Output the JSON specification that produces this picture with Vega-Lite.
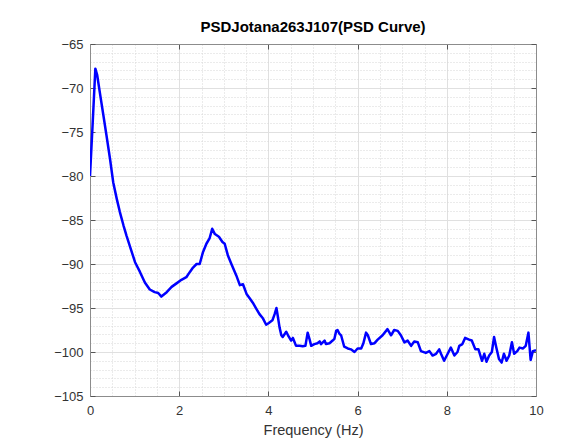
{
  "$schema": "https://vega.github.io/schema/vega-lite/v6.json",
  "width": 446,
  "height": 352,
  "autosize": "none",
  "padding": {"left": 90, "top": 44, "right": 52, "bottom": 43},
  "background": "white",
  "config": {"view": {"stroke": null}},
  "title": {"text": "PSDJotana263J107(PSD Curve)", "font": "Liberation Sans", "fontSize": 15, "fontWeight": "bold", "color": "#000000", "anchor": "middle", "frame": "group", "baseline": "alphabetic", "offset": -9},
  "data": {"values": [
    {"freq": 0.00, "psd": -80.0}, {"freq": 0.06, "psd": -74.0}, {"freq": 0.12, "psd": -67.8}, {"freq": 0.16, "psd": -68.5},
    {"freq": 0.22, "psd": -70.5}, {"freq": 0.30, "psd": -73.1}, {"freq": 0.37, "psd": -75.4}, {"freq": 0.45, "psd": -78.1},
    {"freq": 0.52, "psd": -80.7}, {"freq": 0.60, "psd": -82.6}, {"freq": 0.67, "psd": -84.1}, {"freq": 0.75, "psd": -85.6},
    {"freq": 0.82, "psd": -86.8}, {"freq": 0.89, "psd": -87.9}, {"freq": 1.01, "psd": -89.8}, {"freq": 1.12, "psd": -90.9},
    {"freq": 1.23, "psd": -92.1}, {"freq": 1.34, "psd": -92.9}, {"freq": 1.45, "psd": -93.2}, {"freq": 1.53, "psd": -93.3},
    {"freq": 1.60, "psd": -93.7}, {"freq": 1.72, "psd": -93.2}, {"freq": 1.83, "psd": -92.6}, {"freq": 1.94, "psd": -92.2},
    {"freq": 2.05, "psd": -91.8}, {"freq": 2.16, "psd": -91.5}, {"freq": 2.24, "psd": -90.9}, {"freq": 2.31, "psd": -90.4},
    {"freq": 2.39, "psd": -90.0}, {"freq": 2.46, "psd": -90.0}, {"freq": 2.53, "psd": -88.7}, {"freq": 2.61, "psd": -87.7},
    {"freq": 2.68, "psd": -87.1}, {"freq": 2.74, "psd": -86.0}, {"freq": 2.80, "psd": -86.6}, {"freq": 2.89, "psd": -86.9},
    {"freq": 2.97, "psd": -87.5}, {"freq": 3.02, "psd": -87.7}, {"freq": 3.09, "psd": -89.0}, {"freq": 3.17, "psd": -90.0},
    {"freq": 3.28, "psd": -91.3}, {"freq": 3.36, "psd": -92.4}, {"freq": 3.43, "psd": -92.3}, {"freq": 3.51, "psd": -93.4},
    {"freq": 3.58, "psd": -93.9}, {"freq": 3.65, "psd": -94.4}, {"freq": 3.73, "psd": -95.1}, {"freq": 3.80, "psd": -95.7},
    {"freq": 3.88, "psd": -96.2}, {"freq": 3.95, "psd": -96.9}, {"freq": 4.01, "psd": -96.7}, {"freq": 4.09, "psd": -96.4},
    {"freq": 4.14, "psd": -95.7}, {"freq": 4.18, "psd": -95.0}, {"freq": 4.21, "psd": -95.9}, {"freq": 4.25, "psd": -97.2},
    {"freq": 4.29, "psd": -98.1}, {"freq": 4.32, "psd": -98.3}, {"freq": 4.40, "psd": -97.7}, {"freq": 4.44, "psd": -98.1},
    {"freq": 4.51, "psd": -98.7}, {"freq": 4.55, "psd": -98.4}, {"freq": 4.62, "psd": -99.3}, {"freq": 4.70, "psd": -99.3},
    {"freq": 4.77, "psd": -99.35}, {"freq": 4.83, "psd": -99.3}, {"freq": 4.88, "psd": -97.8}, {"freq": 4.92, "psd": -98.5},
    {"freq": 4.96, "psd": -99.3}, {"freq": 5.03, "psd": -99.1}, {"freq": 5.10, "psd": -99.0}, {"freq": 5.15, "psd": -98.8},
    {"freq": 5.18, "psd": -99.1}, {"freq": 5.26, "psd": -98.7}, {"freq": 5.29, "psd": -99.1}, {"freq": 5.37, "psd": -99.0},
    {"freq": 5.44, "psd": -98.7}, {"freq": 5.48, "psd": -98.5}, {"freq": 5.52, "psd": -97.6}, {"freq": 5.55, "psd": -97.5},
    {"freq": 5.59, "psd": -97.9}, {"freq": 5.63, "psd": -98.1}, {"freq": 5.70, "psd": -99.4}, {"freq": 5.78, "psd": -99.6},
    {"freq": 5.85, "psd": -99.7}, {"freq": 5.93, "psd": -100.0}, {"freq": 6.00, "psd": -99.6}, {"freq": 6.08, "psd": -99.6},
    {"freq": 6.13, "psd": -99.0}, {"freq": 6.19, "psd": -97.8}, {"freq": 6.23, "psd": -98.1}, {"freq": 6.30, "psd": -99.1},
    {"freq": 6.38, "psd": -99.0}, {"freq": 6.45, "psd": -98.6}, {"freq": 6.56, "psd": -98.1}, {"freq": 6.67, "psd": -97.4},
    {"freq": 6.75, "psd": -98.1}, {"freq": 6.82, "psd": -97.5}, {"freq": 6.90, "psd": -97.6}, {"freq": 6.97, "psd": -98.1},
    {"freq": 7.05, "psd": -98.9}, {"freq": 7.12, "psd": -98.7}, {"freq": 7.20, "psd": -99.3}, {"freq": 7.27, "psd": -98.8},
    {"freq": 7.35, "psd": -98.9}, {"freq": 7.42, "psd": -99.9}, {"freq": 7.53, "psd": -100.1}, {"freq": 7.61, "psd": -99.9},
    {"freq": 7.68, "psd": -100.4}, {"freq": 7.76, "psd": -100.2}, {"freq": 7.83, "psd": -99.7}, {"freq": 7.87, "psd": -100.2},
    {"freq": 7.94, "psd": -101.0}, {"freq": 8.02, "psd": -100.2}, {"freq": 8.09, "psd": -99.5}, {"freq": 8.17, "psd": -100.4},
    {"freq": 8.24, "psd": -100.0}, {"freq": 8.28, "psd": -99.3}, {"freq": 8.35, "psd": -99.1}, {"freq": 8.41, "psd": -98.4},
    {"freq": 8.50, "psd": -98.6}, {"freq": 8.56, "psd": -98.7}, {"freq": 8.64, "psd": -99.7}, {"freq": 8.71, "psd": -99.7},
    {"freq": 8.79, "psd": -101.0}, {"freq": 8.84, "psd": -100.2}, {"freq": 8.89, "psd": -101.1}, {"freq": 8.95, "psd": -100.4},
    {"freq": 9.01, "psd": -100.0}, {"freq": 9.06, "psd": -98.3}, {"freq": 9.11, "psd": -99.5}, {"freq": 9.17, "psd": -100.8},
    {"freq": 9.23, "psd": -101.2}, {"freq": 9.28, "psd": -100.2}, {"freq": 9.34, "psd": -101.0}, {"freq": 9.40, "psd": -100.4},
    {"freq": 9.46, "psd": -98.9}, {"freq": 9.51, "psd": -100.2}, {"freq": 9.58, "psd": -99.9}, {"freq": 9.63, "psd": -99.5},
    {"freq": 9.71, "psd": -99.6}, {"freq": 9.77, "psd": -99.3}, {"freq": 9.83, "psd": -97.8}, {"freq": 9.88, "psd": -100.9},
    {"freq": 9.93, "psd": -99.9}, {"freq": 10.0, "psd": -99.8}
  ]},
  "layer": [
    {
      "mark": {"type": "line", "strokeOpacity": 0},
      "encoding": {
        "x": {"field": "freq", "type": "quantitative", "scale": {"domain": [0, 10], "nice": false, "zero": false},
          "axis": {"orient": "bottom", "values": [0.5, 1, 1.5, 2.5, 3, 3.5, 4.5, 5, 5.5, 6.5, 7, 7.5, 8.5, 9, 9.5], "grid": true, "gridColor": "#d6d6d6", "gridDash": [1, 2], "gridWidth": 1, "ticks": false, "labels": false, "domain": false, "title": null}},
        "y": {"field": "psd", "type": "quantitative", "scale": {"domain": [-105, -65], "nice": false, "zero": false},
          "axis": {"orient": "left", "values": [-104, -103, -102, -101, -99, -98, -97, -96, -94, -93, -92, -91, -89, -88, -87, -86, -84, -83, -82, -81, -79, -78, -77, -76, -74, -73, -72, -71, -69, -68, -67, -66], "grid": true, "gridColor": "#d6d6d6", "gridDash": [1, 2], "gridWidth": 1, "ticks": false, "labels": false, "domain": false, "title": null}}
      }
    },
    {
      "mark": {"type": "line", "strokeOpacity": 0},
      "encoding": {
        "x": {"field": "freq", "type": "quantitative",
          "axis": {"orient": "bottom", "values": [0, 2, 4, 6, 8, 10], "format": "d", "grid": true, "gridColor": "#e0e0e0", "gridWidth": 1,
            "tickSize": -5, "tickColor": "#555555", "tickWidth": 1, "domain": true, "domainColor": "#8c8c8c", "domainWidth": 1,
            "labelFont": "Liberation Sans", "labelFontSize": 13, "labelColor": "#333333", "labelPadding": 13, "labelFlush": false,
            "title": "Frequency (Hz)", "titleFont": "Liberation Sans", "titleFontSize": 14.5, "titleFontWeight": "normal", "titleColor": "#333333", "titlePadding": 6}},
        "y": {"field": "psd", "type": "quantitative",
          "axis": {"orient": "left", "values": [-105, -100, -95, -90, -85, -80, -75, -70, -65], "format": "d", "grid": true, "gridColor": "#e0e0e0", "gridWidth": 1,
            "tickSize": -5, "tickColor": "#555555", "tickWidth": 1, "domain": true, "domainColor": "#8c8c8c", "domainWidth": 1,
            "labelFont": "Liberation Sans", "labelFontSize": 13, "labelColor": "#333333", "labelPadding": 12, "labelFlush": false, "title": null}}
      }
    },
    {
      "mark": {"type": "line", "strokeOpacity": 0},
      "encoding": {
        "x": {"field": "freq", "type": "quantitative",
          "axis": {"orient": "top", "values": [0, 2, 4, 6, 8, 10], "grid": false, "tickSize": -5, "tickColor": "#555555", "tickWidth": 1,
            "domain": true, "domainColor": "#8c8c8c", "domainWidth": 1, "labels": false, "title": null}},
        "y": {"field": "psd", "type": "quantitative",
          "axis": {"orient": "right", "values": [-105, -100, -95, -90, -85, -80, -75, -70, -65], "grid": false, "tickSize": -5, "tickColor": "#555555", "tickWidth": 1,
            "domain": true, "domainColor": "#8c8c8c", "domainWidth": 1, "labels": false, "title": null}}
      }
    },
    {
      "mark": {"type": "line", "color": "#0000ff", "strokeWidth": 2.5, "strokeJoin": "round", "clip": true},
      "encoding": {
        "x": {"field": "freq", "type": "quantitative", "axis": null},
        "y": {"field": "psd", "type": "quantitative", "axis": null}
      }
    }
  ],
  "resolve": {"axis": {"x": "independent", "y": "independent"}}
}
